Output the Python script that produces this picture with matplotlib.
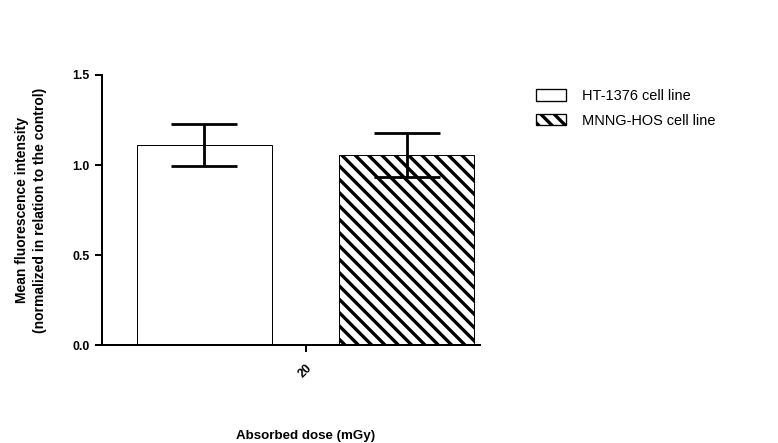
import numpy as np
import matplotlib
matplotlib.use("Agg")
import matplotlib.pyplot as plt

plt.rcParams['font.family'] = ['Liberation Sans', 'DejaVu Sans']
plt.rcParams['hatch.linewidth'] = 3.0
plt.rcParams['hatch.color'] = 'black'

doses = ['20']
series = ['HT-1376 cell line', 'MNNG-HOS cell line']
means = [1.111, 1.055]
errors = [0.117, 0.123]
hatches = ['', '\\\\']

fig = plt.figure(figsize=(9.725, 5.5375), dpi=80)
ax = fig.add_axes([0.1311, 0.2212, 0.4859, 0.6095])

width = 1.0
offsets = [-0.75, 0.75]
for name, m, e, h, off in zip(series, means, errors, hatches, offsets):
    ax.bar(0 + off, m, width=width, color='white', edgecolor='black',
           linewidth=0.9, hatch=h, label=name, zorder=2)
    ax.errorbar(0 + off, m, yerr=e, fmt='none', ecolor='black',
                elinewidth=2.5, capsize=30, capthick=2.5, zorder=3)

ax.set_xlim(-1.509, 1.291)
ax.set_ylim(0, 1.5)
ax.set_yticks([0, 0.5, 1.0, 1.5])
ax.set_yticklabels(['0.0', '0.5', '1.0', '1.5'])
ax.set_xticks([0])
ax.set_xticklabels(doses, rotation=45, ha='right', va='top', rotation_mode='anchor')

for s in ['top', 'right']:
    ax.spines[s].set_visible(False)
for s in ['left', 'bottom']:
    ax.spines[s].set_linewidth(1.8)
ax.tick_params(axis='both', width=1.8, length=6, labelsize=11, direction='out')
ax.tick_params(axis='y', pad=5)
ax.tick_params(axis='x', pad=9)
for lbl in ax.get_yticklabels() + ax.get_xticklabels():
    lbl.set_fontweight('bold')

ax.set_ylabel('Mean fluorescence intensity\n(normalized in relation to the control)',
              fontsize=12.5, fontweight='bold', linespacing=1.35)
ax.yaxis.set_label_coords(-0.145, 0.5)
ax.set_xlabel('Absorbed dose (mGy)', fontsize=12, fontweight='bold')
ax.xaxis.set_label_coords(0.539, -0.315)

leg = ax.legend(loc='upper left', bbox_to_anchor=(536 / 778, 1 - 89 / 443),
                bbox_transform=fig.transFigure, frameon=False,
                fontsize=13, handlelength=2.1, handleheight=0.8,
                handletextpad=1.1, labelspacing=0.75, borderpad=0,
                borderaxespad=0)
for p in leg.get_patches():
    p.set_linewidth(1.2)

fig.savefig('out.png', dpi=80)
